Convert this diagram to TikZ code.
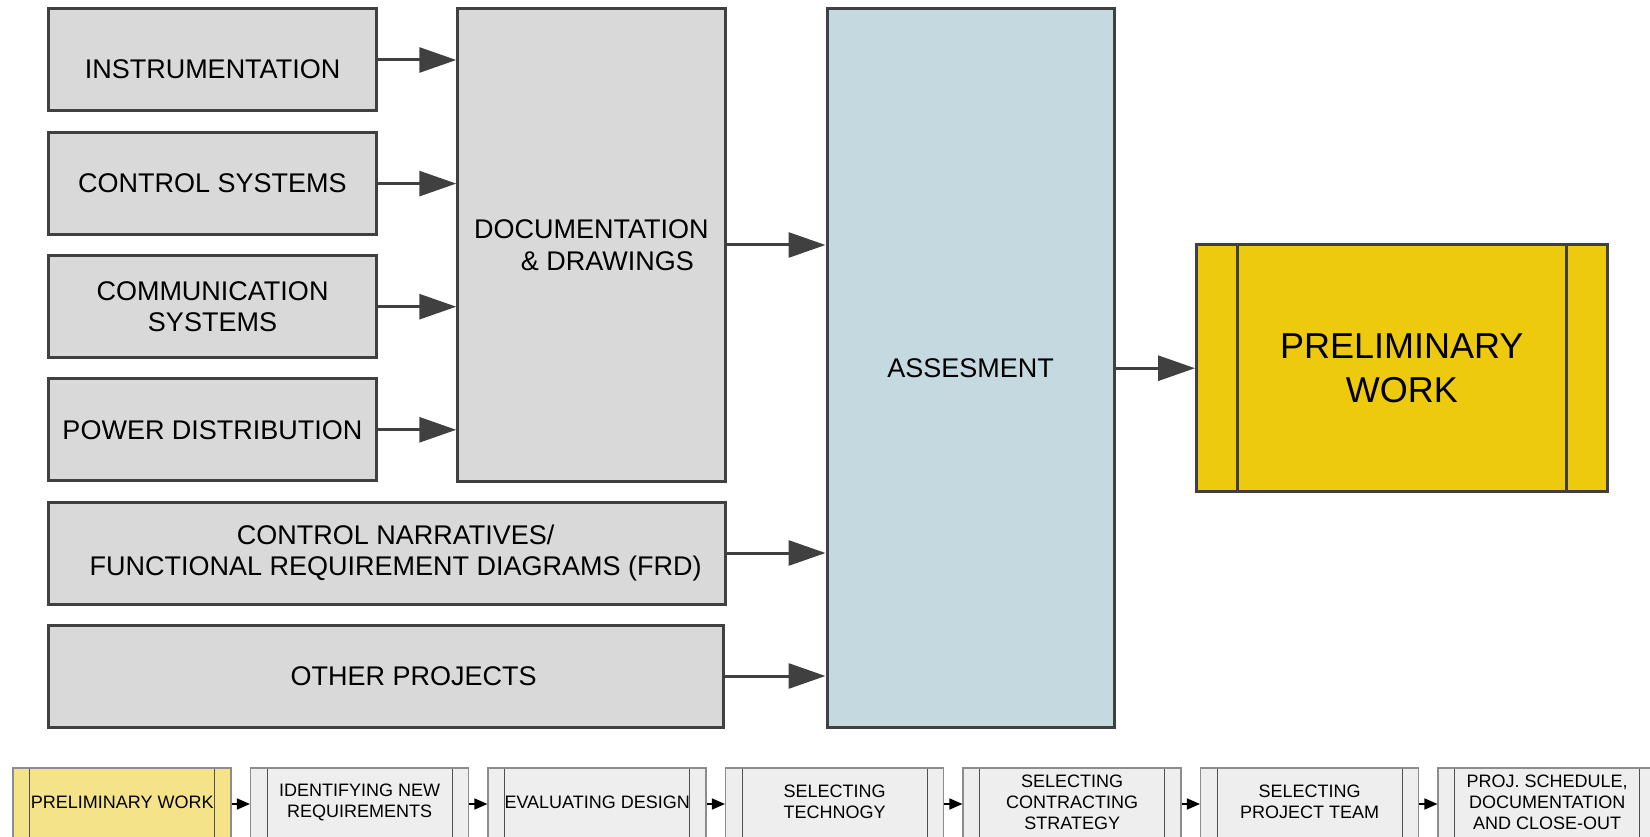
\documentclass[tikz,border=0pt]{standalone}
\usepackage{fontspec}
\setmainfont{Liberation Sans}
\usetikzlibrary{arrows.meta}

\definecolor{edge}{HTML}{404040}
\definecolor{boxgray}{HTML}{D9D9D9}
\definecolor{assessblue}{HTML}{C5D9E0}
\definecolor{prelimgold}{HTML}{EECA0E}
\definecolor{stepfill}{HTML}{EEEEEE}
\definecolor{stepgold}{HTML}{F5E38A}
\definecolor{stepedge}{HTML}{8C8C8C}
\definecolor{stepinner}{HTML}{505050}

\begin{document}
\begin{tikzpicture}[x=1pt,y=-1pt,
  mainfont/.style={font=\fontsize{27}{31.6}\selectfont},
  mainbox/.style={draw=edge, line width=3pt, fill=boxgray, inner sep=0pt,
    align=center, mainfont},
  plaintext/.style={inner sep=0pt, align=center, mainfont},
  flowarrow/.style={draw=edge, line width=3pt, -{Triangle[length=37pt,width=25pt]}},
  prelimbox/.style={draw=edge, line width=3pt, fill=prelimgold, inner sep=0pt,
    align=center, font=\fontsize{36}{44}\selectfont,
    path picture={
      \draw[edge, line width=3pt]
        ([xshift=41pt]path picture bounding box.north west) --
        ([xshift=41pt]path picture bounding box.south west)
        ([xshift=-41pt]path picture bounding box.north east) --
        ([xshift=-41pt]path picture bounding box.south east);
    }},
  stepbox/.style={draw=stepedge, line width=1.5pt, fill=stepfill, inner sep=0pt,
    minimum width=218pt, minimum height=72pt,
    path picture={
      \draw[stepinner, line width=1.2pt]
        ([xshift=16.4pt]path picture bounding box.north west) --
        ([xshift=16.4pt]path picture bounding box.south west)
        ([xshift=-16.4pt]path picture bounding box.north east) --
        ([xshift=-16.4pt]path picture bounding box.south east);
    }},
  steptext/.style={inner sep=0pt, align=center, font=\fontsize{18}{21}\selectfont},
  steparrow/.style={draw=black, line width=1.5pt, -{Triangle[length=13pt,width=11pt]}}
]
\useasboundingbox (0,0) rectangle (1650,837);
\clip (0,0) rectangle (1650,837);

% source boxes on the left
\node[mainbox, minimum width=328.3pt, minimum height=102pt] (instr) at (212.5,60) {};
\node[plaintext] (instrtxt) at ([yshift=-9pt]instr.center) {INSTRUMENTATION};
\node[mainbox, minimum width=328.3pt, minimum height=102pt] (ctrl) at (212.5,183.6) {CONTROL SYSTEMS};
\node[mainbox, minimum width=328.3pt, minimum height=102pt] (comm) at (212.5,306.7) {COMMUNICATION\\SYSTEMS};
\node[mainbox, minimum width=328.3pt, minimum height=102pt] (power) at (212.5,429.8) {POWER DISTRIBUTION};

\node[mainbox, minimum width=267.3pt, minimum height=472pt] (doc) at (591.4,245)
  {DOCUMENTATION\\\hspace*{32pt}\& DRAWINGS};

\node[mainbox, minimum width=676.6pt, minimum height=102pt] (narr) at (386.7,553) {};
\node[plaintext] (narrtxt) at ([xshift=9pt]narr.center)
  {CONTROL NARRATIVES/\\FUNCTIONAL REQUIREMENT DIAGRAMS (FRD)};
\node[mainbox, minimum width=674.6pt, minimum height=102pt] (other) at (385.7,676) {};
\node[plaintext] (othertxt) at ([xshift=28pt]other.center) {OTHER PROJECTS};

% assessment and result
\node[mainbox, fill=assessblue, minimum width=287.4pt, minimum height=718pt] (assess) at (970.7,368) {ASSESMENT};
\node[prelimbox, minimum width=410.5pt, minimum height=246.4pt] (prelim) at (1401.75,368.2) {PRELIMINARY\\WORK};

% connectors
\draw[flowarrow] (instr.east) -- (instr.east -| doc.west);
\draw[flowarrow] (ctrl.east) -- (ctrl.east -| doc.west);
\draw[flowarrow] (comm.east) -- (comm.east -| doc.west);
\draw[flowarrow] (power.east) -- (power.east -| doc.west);
\draw[flowarrow] (doc.east) -- (doc.east -| assess.west);
\draw[flowarrow] (narr.east) -- (narr.east -| assess.west);
\draw[flowarrow] (other.east) -- (other.east -| assess.west);
\draw[flowarrow] (assess.east |- prelim.west) -- (prelim.west);

% process steps along the bottom
\node[stepbox, fill=stepgold] (s1) at (122.2,804) {};
\node[stepbox] (s2) at (359.7,804) {};
\node[stepbox] (s3) at (597.2,804) {};
\node[stepbox] (s4) at (834.7,804) {};
\node[stepbox] (s5) at (1072.2,804) {};
\node[stepbox] (s6) at (1309.7,804) {};
\node[stepbox] (s7) at (1547.2,804) {};

\node[steptext] (s1t) at ([yshift=2pt]s1.center) {PRELIMINARY WORK};
\node[steptext] (s2t) at ([yshift=2pt]s2.center) {IDENTIFYING NEW\\REQUIREMENTS};
\node[steptext] (s3t) at ([yshift=2pt]s3.center) {EVALUATING DESIGN};
\node[steptext] (s4t) at ([yshift=2pt]s4.center) {SELECTING\\TECHNOGY};
\node[steptext] (s5t) at ([yshift=2pt]s5.center) {SELECTING\\CONTRACTING\\STRATEGY};
\node[steptext] (s6t) at ([yshift=2pt]s6.center) {SELECTING\\PROJECT TEAM};
\node[steptext] (s7t) at ([yshift=2pt]s7.center) {PROJ. SCHEDULE,\\DOCUMENTATION\\AND CLOSE-OUT};

\draw[steparrow] (s1.east) -- (s2.west);
\draw[steparrow] (s2.east) -- (s3.west);
\draw[steparrow] (s3.east) -- (s4.west);
\draw[steparrow] (s4.east) -- (s5.west);
\draw[steparrow] (s5.east) -- (s6.west);
\draw[steparrow] (s6.east) -- (s7.west);
\end{tikzpicture}
\end{document}
